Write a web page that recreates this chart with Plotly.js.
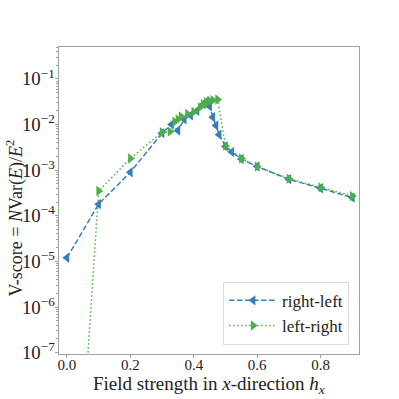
<!DOCTYPE html>
<html>
<head>
<meta charset="utf-8">
<script src="https://cdn.plot.ly/plotly-3.0.1.min.js"></script>
<style>html,body{margin:0;padding:0;background:#fff;}#chart{width:399px;height:399px;}</style>
</head>
<body>
<div id="chart"></div>
<script>
// right-left sweep
const xRightLeft = [0.0, 0.1, 0.2, 0.3, 0.33, 0.35, 0.37, 0.39, 0.41, 0.43, 0.44, 0.45, 0.46, 0.47, 0.48, 0.5, 0.52, 0.55, 0.6, 0.7, 0.8, 0.9];
const vRightLeft = [1.2e-5, 1.8e-4, 9.0e-4, 6.5e-3, 1.0e-2, 7.4e-3, 1.3e-2, 1.6e-2, 2.0e-2, 2.8e-2, 3.2e-2, 2.5e-2, 1.45e-2, 9.5e-3, 6.0e-3, 3.3e-3, 2.5e-3, 1.75e-3, 1.2e-3, 6.3e-4, 4.0e-4, 2.5e-4];
// left-right sweep
const xLeftRight = [0.0, 0.1, 0.2, 0.3, 0.325, 0.34, 0.35, 0.36, 0.38, 0.4, 0.42, 0.43, 0.44, 0.45, 0.46, 0.475, 0.5, 0.55, 0.6, 0.7, 0.8, 0.9];
const vLeftRight = [1e-14, 3.5e-4, 1.8e-3, 6.8e-3, 7.0e-3, 1.15e-2, 1.3e-2, 1.5e-2, 1.7e-2, 1.9e-2, 2.4e-2, 2.8e-2, 3.1e-2, 3.3e-2, 3.4e-2, 3.55e-2, 3.4e-3, 1.8e-3, 1.2e-3, 6.5e-4, 4.2e-4, 2.7e-4];
const seriesNames = ["right-left", "left-right"];
const xTickVals = [0.0, 0.2, 0.4, 0.6, 0.8];
const xTickText = ["0.0", "0.2", "0.4", "0.6", "0.8"];
const xTitle = "Field strength in <i>x</i>-direction <i>h</i><sub><i>x</i></sub>";
const yTitle = "V-score = <i>N</i>Var(<i>E</i>)/<i>E</i><sup>2</sup>";

const font = "Liberation Serif";

const traces = [
  {x: xRightLeft, y: vRightLeft, name: seriesNames[0], mode: "lines+markers",
   line: {color: "#377eb8", width: 1.5, dash: "5.5px,2.5px"},
   marker: {symbol: "triangle-left", size: 9, color: "#377eb8"}},
  {x: xLeftRight, y: vLeftRight, name: seriesNames[1], mode: "lines+markers",
   line: {color: "#4daf4a", width: 1.5, dash: "1.5px,2.5px"},
   marker: {symbol: "triangle-right", size: 9, color: "#4daf4a"}}
];

const layout = {
  width: 399, height: 399,
  margin: {l: 59, r: 40, t: 47, b: 45},
  paper_bgcolor: "#fff", plot_bgcolor: "#fff",
  font: {family: font, color: "#222", size: 16},
  showlegend: true,
  legend: {x: 0.967, y: 0.03, xanchor: "right", yanchor: "bottom", itemwidth: 48,
           bgcolor: "rgba(255,255,255,0.9)", bordercolor: "#dddddd", borderwidth: 1,
           font: {family: font, size: 17, color: "#222"}},
  xaxis: {range: [-0.025, 0.921], tickvals: xTickVals, ticktext: xTickText,
          showgrid: false, zeroline: false, showline: true, mirror: true,
          linecolor: "#a0a0a0", linewidth: 1.3, ticks: "outside", ticklen: 3,
          ticklabelstandoff: -6,
          tickcolor: "#a0a0a0", tickfont: {family: font, size: 15, color: "#222"}},
  yaxis: {type: "log", range: [-7.03, -0.3], dtick: 1, exponentformat: "power",
          showgrid: false, zeroline: false, showline: true, mirror: true,
          linecolor: "#a0a0a0", linewidth: 1.3, ticks: "outside", ticklen: 3,
          ticklabelstandoff: -3,
          tickcolor: "#a0a0a0", tickfont: {family: font, size: 15, color: "#222"},
          minor: {ticks: "outside", ticklen: 2, tickcolor: "#a0a0a0", dtick: "D1"}},
  annotations: [
    {text: xTitle, xref: "paper", yref: "paper", x: 0.5, y: -0.1, xanchor: "center", yanchor: "middle",
     showarrow: false, font: {family: font, size: 19, color: "#222"}},
    {text: yTitle, xref: "paper", yref: "paper", x: -0.145, y: 0.443, xanchor: "center", yanchor: "middle",
     textangle: -90, showarrow: false, font: {family: font, size: 18, color: "#222"}}
  ]
};

Plotly.newPlot("chart", traces, layout, {displayModeBar: false, staticPlot: true});
</script>
</body>
</html>
